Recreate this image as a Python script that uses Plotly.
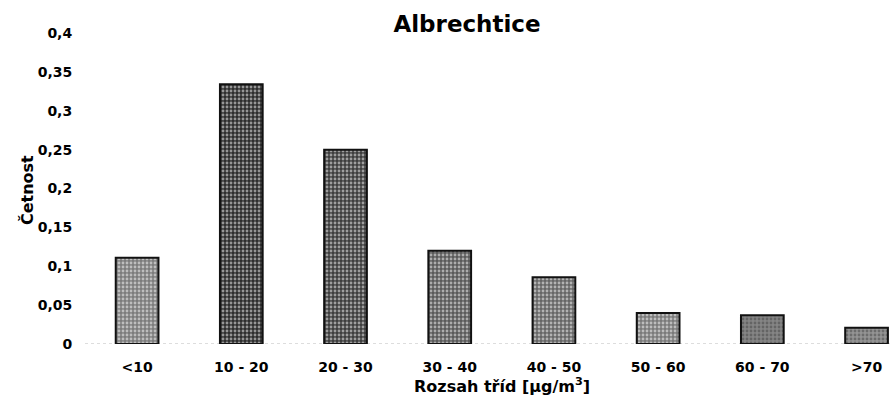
import plotly.graph_objects as go

categories = ["<10", "10 - 20", "20 - 30", "30 - 40", "40 - 50", "50 - 60", "60 - 70", ">70"]
frequency = [0.111, 0.334, 0.25, 0.12, 0.086, 0.04, 0.037, 0.021]

bar_fill = ["#7c7c7c", "#2e2e2e", "#3e3e3e", "#5a5a5a", "#666666", "#7a7a7a", "#858585", "#949494"]

FONT = "DejaVu Sans, Liberation Sans, Arial, sans-serif"

fig = go.Figure(
    go.Bar(
        x=categories,
        y=frequency,
        width=0.41,
        marker=dict(
            color=bar_fill,
            line=dict(color="#111111", width=2),
            pattern=dict(
                shape=".",
                fgcolor="#ffffff",
                bgcolor=bar_fill,
                size=4,
                solidity=0.4,
                fillmode="overlay",
            ),
        ),
        hovertemplate="%{x}: %{y}<extra></extra>",
    )
)

# dotted axis line along zero
fig.add_shape(
    type="line", xref="paper", yref="y", x0=0, x1=1, y0=0, y1=0,
    line=dict(color="#bbbbbb", width=1, dash="dot"), layer="below",
)

fig.add_annotation(
    text="Rozsah tříd [µg/m<sup>3</sup>]", xref="x", yref="paper", x=3.5, y=-0.132,
    showarrow=False, yanchor="middle", font=dict(size=16, family=FONT, weight="bold", color="#000"),
)
fig.add_annotation(
    text="Četnost", xref="paper", yref="paper", x=-0.072, y=0.495, textangle=-90,
    xanchor="center", yanchor="middle",
    showarrow=False, font=dict(size=16, family=FONT, weight="bold", color="#000"),
)

fig.update_layout(
    width=890,
    height=406,
    margin=dict(l=85, r=0, t=33, b=62),
    paper_bgcolor="white",
    plot_bgcolor="white",
    separators=", ",
    showlegend=False,
    font=dict(family=FONT, color="#000", size=14, weight="bold"),
    title=dict(
        text="Albrechtice", x=467 / 890, xref="container", xanchor="center",
        y=0.94, yanchor="middle", font=dict(size=23, family=FONT, weight="bold", color="#000"),
    ),
    xaxis=dict(
        range=[-0.5, 7.225], showgrid=False, zeroline=False, showline=False, automargin=False,
        ticks="outside", ticklen=10, tickcolor="rgba(0,0,0,0)",
        tickfont=dict(size=14, family=FONT, weight="bold"),
    ),
    yaxis=dict(
        range=[0, 0.4], dtick=0.05, showgrid=False, zeroline=False, showline=False, automargin=False,
        ticks="outside", ticklen=9, tickcolor="rgba(0,0,0,0)",
        tickfont=dict(size=14, family=FONT, weight="bold"),
    ),
)

fig.write_html(
    "out.html",
    config={"displayModeBar": False},
    post_script="document.body.style.margin='0';",
)
